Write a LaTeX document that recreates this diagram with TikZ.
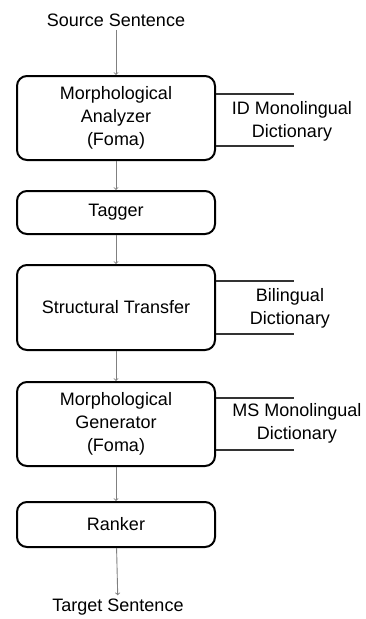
\documentclass[tikz,border=0pt]{standalone}
\usepackage{fontspec}
\setmainfont{Liberation Sans}
\tikzset{stage/.style={draw,line width=2pt,rounded corners=10pt,minimum width=198pt,align=center,font=\fontsize{18}{23}\selectfont},
flow/.style={->,gray,line width=0.9pt},
store/.style={draw=black!80,line width=1.2pt}}

\begin{document}
\begin{tikzpicture}[x=1pt,y=-1pt]
                  \tikzstyle{every node}=[font=\fontsize{18}{23}\selectfont]
                  \useasboundingbox (0,0) rectangle (366,619);
                  \node (src) at (116,20) {Source Sentence};
                  \node[stage,minimum height=84pt] (ana) at (116,118) {Morphological\\Analyzer\\(Foma)};
                  \node[stage,minimum height=43pt] (tag) at (116,212.5) {Tagger};
                  \node[stage,minimum height=85pt] (trans) at (116,307.5) {Structural Transfer};
                  \node[stage,minimum height=84pt] (gen) at (116,424) {Morphological\\Generator\\(Foma)};
                  \node[stage,minimum height=45pt] (rank) at (116,524.5) {Ranker};
                  \node (tgt) at (118,607) {Target Sentence};
                  \draw[flow] (src) -- (ana);
                  \draw[flow] (ana) -- (tag);
                  \draw[flow] (tag) -- (trans);
                  \draw[flow] (trans) -- (gen);
                  \draw[flow] (gen) -- (rank);
                  \draw[flow] (rank) -- (tgt);
                  % dictionaries
                  \node[align=center] (iddict) at (292,121) {ID Monolingual\\Dictionary};
                  \draw[store] ([yshift=24pt]ana.east) -- ++(78,0);
                  \draw[store] ([yshift=-28pt]ana.east) -- ++(78,0);
                  \node[align=center] (bidict) at (290,308) {Bilingual\\Dictionary};
                  \draw[store] ([yshift=26.5pt]trans.east) -- ++(78,0);
                  \draw[store] ([yshift=-26.5pt]trans.east) -- ++(78,0);
                  \node[align=center] (msdict) at (297,423) {MS Monolingual\\Dictionary};
                  \draw[store] ([yshift=26pt]gen.east) -- ++(78,0);
                  \draw[store] ([yshift=-26pt]gen.east) -- ++(78,0);
              \end{tikzpicture}
\end{document}
